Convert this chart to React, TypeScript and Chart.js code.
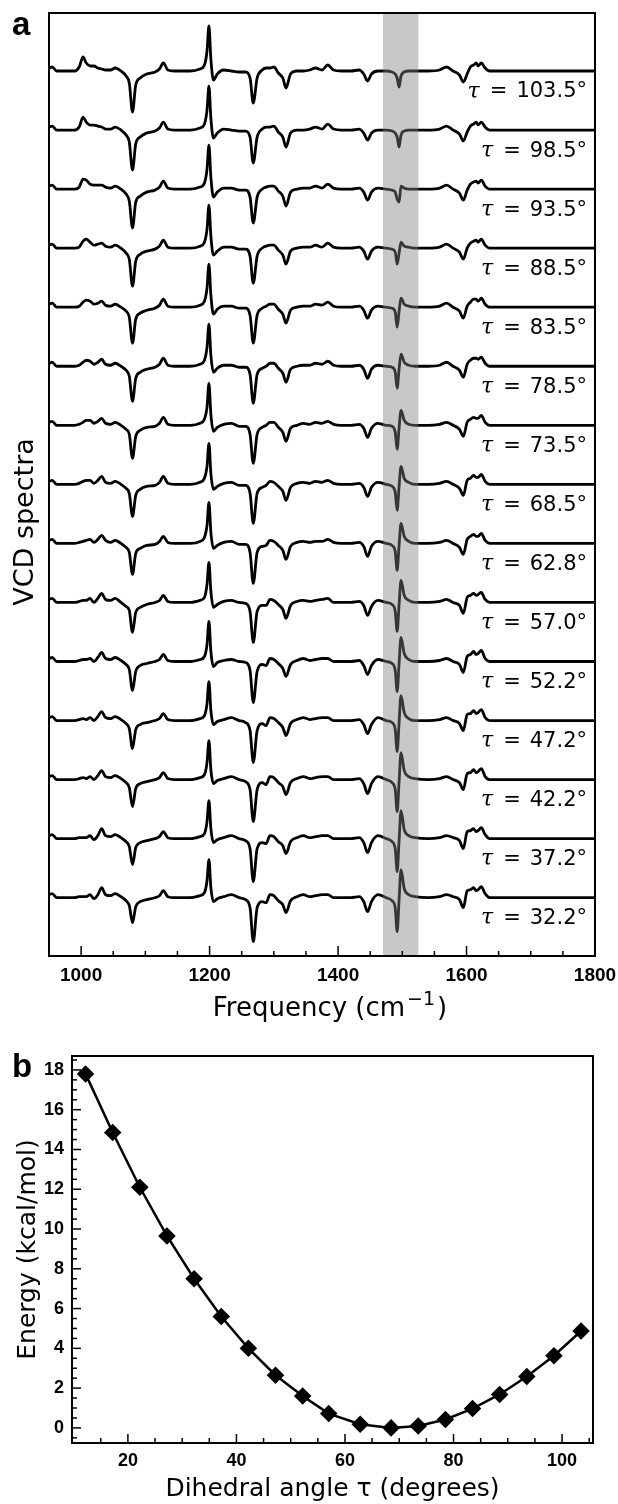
import React, { useEffect, useRef } from "react";
import { Chart, registerables } from "chart.js";
Chart.register(...registerables);

// ---------------- Panel a : VCD spectra ----------------
const frequency = [
  950, 955, 962, 990, 997, 1003, 1008, 1014, 1020, 1026,
  1032, 1038, 1046, 1053, 1062, 1070, 1075, 1080, 1085, 1092,
  1102, 1115, 1122, 1128, 1135, 1145, 1170, 1185, 1192, 1196,
  1199, 1202, 1206, 1212, 1222, 1234, 1246, 1256, 1263, 1268,
  1274, 1282, 1288, 1294, 1300, 1307, 1314, 1319, 1326, 1336,
  1346, 1356, 1365, 1375, 1384, 1393, 1405, 1420, 1433, 1440,
  1446, 1452, 1462, 1475, 1484, 1489, 1492, 1495, 1498, 1503,
  1510, 1520, 1540, 1558, 1569, 1579, 1589, 1595, 1601, 1606,
  1611, 1615, 1618, 1623, 1629, 1636, 1650, 1800,
];

const tauLabels = ["103.5", "98.5", "93.5", "88.5", "83.5", "78.5", "73.5", "68.5", "62.8", "57.0", "52.2", "47.2", "42.2", "37.2", "32.2"];

const vcd_103_5 = [
  3, 4, 0, 0, 4, 14, 8, 5, 5, 3,
  2, 1, 1, 3, 0, -5, -12, -41, -14, -7,
  -3, -1, 2, 8, 1, 0, 0, 2, 6, 20,
  45, 12, -9, -3, 1, 0, -1, -1, -7, -32,
  -7, 1, 3, 3, 4, -2, -7, -17, -3, 0,
  0, 1, 3, 1, 6, 1, 0, 0, 1, -3,
  -10, -3, 0, 0, -1, -3, -7, -16, -5, -1,
  0, 0, 0, 1, 4, 0, -4, -11, -3, 4,
  6, 8, 5, 8, 3, 0, 0, 0,
];
const vcd_98_5 = [
  3, 4, 0, 0, 3, 13, 8, 5, 5, 4,
  3, 1, 1, 3, 0, -5, -12, -40, -14, -7,
  -3, -1, 2, 8, 1, 0, 0, 2, 6, 20,
  44, 12, -8, -3, 1, 0, -1, -1, -7, -33,
  -7, 1, 3, 3, 4, -2, -7, -17, -3, 0,
  0, 1, 3, 1, 6, 1, 0, 0, 1, -3,
  -10, -3, 0, 0, -1, -3, -7, -17, -5, -1,
  0, 0, 0, 1, 4, 0, -4, -11, -2, 4,
  6, 8, 5, 8, 3, 0, 0, 0,
];
const vcd_93_5 = [
  3, 4, 0, 0, 2, 10, 9, 5, 4, 4,
  4, 2, 1, 3, 0, -5, -12, -39, -13, -7,
  -3, -1, 2, 8, 1, 0, 0, 2, 6, 20,
  44, 12, -8, -3, 1, 1, -1, -1, -8, -34,
  -8, 0, 2, 3, 3, -2, -7, -17, -3, 0,
  1, 1, 3, 1, 5, 1, 0, 0, 1, -3,
  -11, -3, 1, 0, -1, -3, -10, -13, 3, 1,
  0, 0, 0, 1, 4, 0, -4, -11, -1, 5,
  7, 8, 6, 9, 3, 0, 0, 0,
];
const vcd_88_5 = [
  3, 4, 0, 0, 1, 7, 9, 6, 3, 4,
  5, 2, 1, 3, 0, -5, -11, -38, -13, -6,
  -3, -1, 2, 8, 1, 0, 0, 2, 6, 19,
  43, 12, -7, -3, 1, 1, -1, -1, -8, -35,
  -8, 0, 2, 3, 3, -2, -7, -16, -3, 0,
  1, 1, 3, 1, 5, 1, 0, 0, 1, -3,
  -11, -3, 1, 0, -1, -4, -16, -5, 6, 2,
  1, 0, 0, 1, 4, 0, -4, -11, 0, 5,
  7, 8, 6, 9, 3, 0, 0, 0,
];
const vcd_83_5 = [
  3, 4, 0, 0, 1, 5, 7, 6, 3, 4,
  6, 2, 1, 3, 0, -4, -10, -36, -12, -6,
  -3, -1, 2, 8, 1, 0, 0, 2, 6, 19,
  43, 12, -7, -2, 1, 1, -1, -1, -8, -36,
  -8, -1, 1, 3, 3, -2, -7, -16, -3, 0,
  1, 1, 3, 2, 5, 1, 0, 0, 1, -3,
  -11, -3, 1, 0, -1, -5, -20, -4, 9, 3,
  1, 0, 0, 1, 4, 0, -4, -11, 1, 5,
  8, 8, 6, 9, 3, 0, 0, 0,
];
const vcd_78_5 = [
  3, 4, 0, 0, 1, 4, 6, 5, 2, 4,
  7, 2, 1, 3, 0, -4, -10, -35, -12, -6,
  -3, -1, 2, 8, 1, 0, 0, 2, 6, 19,
  42, 11, -6, -2, 1, 1, -1, -1, -8, -37,
  -8, -2, 0, 3, 3, -2, -7, -16, -3, 0,
  1, 1, 3, 2, 5, 1, 0, 0, 1, -3,
  -12, -3, 1, 0, -1, -6, -22, -3, 12, 4,
  1, 0, 0, 1, 4, 0, -4, -11, 2, 6,
  8, 8, 7, 9, 3, 0, 0, 0,
];
const vcd_73_5 = [
  3, 4, 0, 0, 1, 3, 5, 5, 2, 4,
  7, 2, 1, 3, 0, -4, -9, -33, -11, -5,
  -2, -1, 2, 8, 1, 0, 0, 2, 6, 18,
  42, 11, -6, -2, 1, 2, -1, -1, -9, -38,
  -9, -2, 0, 3, 3, -2, -7, -16, -3, 0,
  2, 1, 3, 2, 4, 1, 0, 0, 1, -3,
  -12, -3, 2, 0, -1, -7, -24, -3, 15, 5,
  1, 0, 0, 1, 3, 0, -4, -11, 3, 6,
  8, 7, 7, 10, 3, 0, 0, 0,
];
const vcd_68_5 = [
  3, 4, 0, 0, 1, 3, 4, 4, 1, 4,
  8, 2, 1, 3, 0, -4, -9, -32, -11, -5,
  -2, -1, 2, 8, 1, 0, 0, 2, 6, 18,
  41, 11, -5, -2, 1, 2, -1, -1, -9, -39,
  -9, -3, -1, 3, 2, -2, -7, -16, -3, 1,
  2, 1, 3, 2, 4, 1, 0, 0, 1, -3,
  -12, -3, 2, 0, -2, -8, -26, -2, 18, 6,
  2, 0, 0, 1, 3, 0, -4, -11, 4, 6,
  9, 7, 7, 10, 3, 0, 0, 0,
];
const vcd_62_8 = [
  3, 4, 0, 0, 1, 2, 3, 4, 1, 4,
  8, 3, 1, 3, 0, -4, -9, -31, -10, -5,
  -2, -1, 2, 7, 1, 0, 0, 2, 6, 18,
  41, 11, -5, -2, 1, 2, -1, -1, -9, -40,
  -9, -3, -2, 3, 2, -2, -7, -16, -3, 1,
  2, 1, 2, 2, 4, 1, 0, 0, 1, -3,
  -13, -3, 2, 0, -2, -8, -27, -2, 20, 7,
  2, 0, 0, 1, 3, 0, -4, -11, 4, 7,
  9, 7, 7, 10, 3, 0, 0, 0,
];
const vcd_57_0 = [
  3, 4, 0, 0, 1, 2, 2, 4, 0, 4,
  9, 3, 2, 4, 0, -4, -8, -30, -10, -5,
  -2, 0, 2, 7, 1, 0, 0, 2, 5, 18,
  40, 11, -5, -2, 1, 2, 0, -1, -9, -40,
  -9, -3, -3, 3, 2, -2, -7, -16, -3, 1,
  2, 1, 2, 3, 4, 0, 0, 0, 1, -3,
  -13, -4, 2, 0, -2, -9, -29, -2, 22, 7,
  2, 0, 0, 1, 3, 0, -3, -11, 5, 7,
  9, 7, 8, 10, 3, 0, 0, 0,
];
const vcd_52_2 = [
  3, 4, 0, 0, 1, 2, 2, 3, 0, 4,
  9, 3, 2, 4, 1, -3, -8, -29, -10, -4,
  -2, 0, 2, 7, 1, 0, 0, 2, 5, 17,
  40, 10, -5, -1, 1, 2, 0, -1, -9, -41,
  -10, -3, -4, 3, 2, -2, -7, -15, -3, 1,
  3, 1, 2, 3, 3, 0, 0, 0, 1, -4,
  -13, -4, 2, 0, -2, -9, -30, -2, 24, 8,
  2, 0, 0, 1, 3, 0, -3, -11, 5, 7,
  10, 7, 8, 11, 3, 0, 0, 0,
];
const vcd_47_2 = [
  3, 4, 0, 0, 1, 2, 1, 3, 0, 4,
  9, 3, 2, 4, 1, -3, -8, -28, -9, -4,
  -2, 0, 2, 7, 1, 0, 0, 2, 5, 17,
  39, 10, -4, -1, 1, 3, 0, -2, -10, -42,
  -10, -3, -5, 3, 2, -2, -7, -15, -3, 1,
  3, 1, 2, 3, 3, 0, 0, 0, 1, -4,
  -13, -4, 3, 0, -2, -9, -31, -2, 25, 8,
  2, 0, 0, 1, 3, 0, -3, -10, 6, 7,
  10, 7, 8, 11, 3, 0, 0, 0,
];
const vcd_42_2 = [
  3, 4, 0, 0, 1, 2, 1, 3, 0, 4,
  9, 3, 2, 4, 1, -3, -8, -27, -9, -4,
  -2, 0, 2, 7, 1, 0, 0, 2, 5, 17,
  39, 10, -4, -1, 1, 3, 0, -2, -10, -42,
  -10, -3, -5, 3, 2, -3, -7, -15, -3, 1,
  3, 1, 2, 3, 3, 0, 0, 0, 1, -4,
  -14, -4, 3, 0, -3, -10, -32, -2, 27, 9,
  3, 1, 0, 1, 3, 0, -3, -10, 6, 7,
  10, 7, 8, 11, 3, 0, 0, 0,
];
const vcd_37_2 = [
  3, 4, 0, 0, 1, 1, 1, 3, -1, 3,
  10, 3, 2, 4, 1, -3, -8, -26, -9, -4,
  -2, 0, 2, 7, 1, 0, 0, 2, 5, 17,
  38, 10, -4, -1, 1, 3, 0, -2, -10, -43,
  -10, -4, -5, 3, 2, -3, -7, -15, -3, 1,
  3, 1, 2, 3, 3, 0, 0, 0, 1, -4,
  -14, -4, 3, 0, -3, -10, -33, -2, 28, 9,
  3, 1, 0, 1, 3, 1, -2, -10, 7, 8,
  10, 7, 8, 11, 4, 0, 0, 0,
];
const vcd_32_2 = [
  3, 4, 0, 0, 1, 1, 1, 3, -1, 3,
  10, 3, 2, 4, 1, -3, -8, -25, -9, -4,
  -2, 0, 2, 7, 1, 0, 0, 2, 5, 17,
  38, 10, -4, -1, 1, 3, 0, -2, -10, -44,
  -10, -4, -5, 3, 2, -3, -7, -15, -3, 1,
  3, 1, 2, 3, 3, 0, 0, 0, 1, -4,
  -14, -4, 3, 0, -3, -10, -34, -2, 28, 9,
  3, 1, 0, 1, 3, 1, -2, -10, 7, 8,
  10, 7, 8, 11, 4, 0, 0, 0,
];

const vcdSpectra = [
  vcd_103_5, vcd_98_5, vcd_93_5, vcd_88_5, vcd_83_5, vcd_78_5, vcd_73_5, vcd_68_5,
  vcd_62_8, vcd_57_0, vcd_52_2, vcd_47_2, vcd_42_2, vcd_37_2, vcd_32_2,
];

const frequencyTicks = [1000, 1200, 1400, 1600, 1800];
const frequencyMinorTicks = [1050, 1100, 1150, 1250, 1300, 1350, 1450, 1500, 1550, 1650, 1700, 1750];
const highlightBand = [1470, 1525];

// ---------------- Panel b : energy profile ----------------
const dihedralAngle = [12.2, 17.2, 22.2, 27.2, 32.2, 37.2, 42.2, 47.2, 52.2, 57.0, 62.8, 68.5, 73.5, 78.5, 83.5, 88.5, 93.5, 98.5, 103.5];
const energy = [17.8, 14.85, 12.1, 9.65, 7.5, 5.6, 4.0, 2.65, 1.6, 0.72, 0.18, 0.0, 0.1, 0.42, 0.97, 1.68, 2.58, 3.63, 4.87];
const angleTicks = [20, 40, 60, 80, 100];
const angleMinorTicks = [15, 25, 30, 35, 45, 50, 55, 65, 70, 75, 85, 90, 95, 105];
const energyTicks = [0, 2, 4, 6, 8, 10, 12, 14, 16, 18];
const energyMinorTicks = [-0.5, 0.5, 1, 1.5, 2.5, 3, 3.5, 4.5, 5, 5.5, 6.5, 7, 7.5, 8.5, 9, 9.5, 10.5, 11, 11.5, 12.5, 13, 13.5, 14.5, 15, 15.5, 16.5, 17, 17.5, 18.5];

// ---------------- shared styling ----------------
const SANS = '"DejaVu Sans", sans-serif';
const TICK_FONT_A = { family: '"Liberation Sans", Arial, sans-serif', weight: "bold" as const, size: 19 };
const TICK_FONT_B = { family: '"Liberation Sans", Arial, sans-serif', weight: "bold" as const, size: 18 };
const TITLE_FONT_B = { family: SANS, size: 25 };

const boxTicksPlugin = {
  id: "boxTicks",
  afterDraw(chart: any, _args: any, opts: any) {
    const { ctx, chartArea: a, scales } = chart;
    ctx.save();
    ctx.strokeStyle = "#000";
    ctx.lineWidth = 1.5;
    const seg = (x1: number, y1: number, x2: number, y2: number) => {
      ctx.beginPath();
      ctx.moveTo(x1, y1);
      ctx.lineTo(x2, y2);
      ctx.stroke();
    };
    (opts.xMinor || []).forEach((v: number) => {
      const x = scales.x.getPixelForValue(v);
      seg(x, a.bottom, x, a.bottom - opts.minorLen);
    });
    (opts.xMajor || []).forEach((v: number) => {
      const x = scales.x.getPixelForValue(v);
      seg(x, a.bottom, x, a.bottom - opts.majorLen);
    });
    (opts.yMinor || []).forEach((v: number) => {
      const y = scales.y.getPixelForValue(v);
      seg(a.left, y, a.left + opts.minorLen, y);
    });
    (opts.yMajor || []).forEach((v: number) => {
      const y = scales.y.getPixelForValue(v);
      seg(a.left, y, a.left + opts.majorLen, y);
    });
    ctx.lineWidth = 2;
    ctx.strokeRect(a.left, a.top, a.right - a.left, a.bottom - a.top);
    ctx.fillStyle = "#000";
    ctx.font = 'bold 33px "Liberation Sans", Arial, sans-serif';
    ctx.textAlign = "left";
    ctx.textBaseline = "alphabetic";
    ctx.fillText(opts.letter, opts.letterX, opts.letterY);
    ctx.restore();
  },
};

// Highlight band, tau labels and panel-a axis titles (with a true superscript)
const bandLabelPlugin = {
  id: "bandLabels",
  afterDatasetsDraw(chart: any, _args: any, opts: any) {
    const { ctx, chartArea: a, scales } = chart;
    ctx.save();
    const x1 = scales.x.getPixelForValue(opts.band[0]);
    const x2 = scales.x.getPixelForValue(opts.band[1]);
    ctx.fillStyle = "rgba(128,128,128,0.43)";
    ctx.fillRect(x1, a.top, x2 - x1, a.bottom - a.top);
    ctx.fillStyle = "#000";
    ctx.textBaseline = "middle";
    ctx.textAlign = "right";
    opts.labels.forEach((lab: string, k: number) => {
      const y = scales.y.getPixelForValue(opts.offsets[k]) + 21;
      const right = a.right - 8;
      ctx.font = "21px " + SANS;
      const num = lab + "°";
      ctx.fillText(num, right, y);
      let x = right - ctx.measureText(num).width - 9;
      ctx.fillText("=", x, y);
      x -= ctx.measureText("=").width + 10;
      ctx.font = 'italic 22px "DejaVu Serif", serif';
      ctx.fillText("τ", x, y);
    });

    // x-axis title: Frequency (cm^-1)
    ctx.textAlign = "left";
    ctx.textBaseline = "alphabetic";
    const main1 = "Frequency (cm";
    const sup = "−1";
    const main2 = ")";
    const fMain = "26px " + SANS;
    const fSup = "19px " + SANS;
    ctx.font = fMain;
    const w1 = ctx.measureText(main1).width;
    const w3 = ctx.measureText(main2).width;
    ctx.font = fSup;
    const w2 = ctx.measureText(sup).width;
    const total = w1 + 2 + w2 + 2 + w3;
    let tx = (a.left + a.right) / 2 + 8 - total / 2;
    const baseY = a.bottom + 60;
    ctx.font = fMain;
    ctx.fillText(main1, tx, baseY);
    tx += w1 + 2;
    ctx.font = fSup;
    ctx.fillText(sup, tx, baseY - 11);
    tx += w2 + 2;
    ctx.font = fMain;
    ctx.fillText(main2, tx, baseY);

    // y-axis title: VCD spectra
    ctx.save();
    ctx.translate(26, opts.yTitleCenter);
    ctx.rotate(-Math.PI / 2);
    ctx.textAlign = "center";
    ctx.textBaseline = "middle";
    ctx.font = "27px " + SANS;
    ctx.fillText("VCD spectra", 0, 0);
    ctx.restore();
    ctx.restore();
  },
};

const TRACE_TOP = 885;
const TRACE_STEP = 59.05;

export default function App() {
  const refA = useRef<HTMLCanvasElement>(null);
  const refB = useRef<HTMLCanvasElement>(null);

  useEffect(() => {
    const offsets = vcdSpectra.map((_, k) => TRACE_TOP - TRACE_STEP * k);
    const datasetsA = vcdSpectra.map((vals, k) => ({
      label: "τ = " + tauLabels[k] + "°",
      data: frequency.map((f, i) => ({ x: f, y: vals[i] + offsets[k] })),
      borderColor: "#000",
      borderWidth: 2.8,
      pointRadius: 0,
      fill: false,
      cubicInterpolationMode: "monotone" as const,
      borderJoinStyle: "round" as const,
    }));

    const chartA = new Chart(refA.current!, {
      type: "line",
      data: { datasets: datasetsA },
      options: {
        animation: false,
        responsive: false,
        maintainAspectRatio: false,
        events: [],
        layout: { padding: { top: 13, right: 23, left: 0, bottom: 0 } },
        plugins: {
          legend: { display: false },
          tooltip: { enabled: false },
          boxTicks: { xMajor: frequencyTicks, xMinor: frequencyMinorTicks, majorLen: 10, minorLen: 5, letter: "a", letterX: 12, letterY: 35 },
          bandLabels: { band: highlightBand, labels: tauLabels, offsets, yTitleCenter: 522 },
        } as any,
        scales: {
          x: {
            type: "linear",
            min: 950,
            max: 1800,
            afterBuildTicks: (s: any) => {
              s.ticks = frequencyTicks.map((v) => ({ value: v }));
            },
            afterFit: (s: any) => {
              s.height = 79;
              s.paddingLeft = 0;
              s.paddingRight = 0;
            },
            ticks: { font: TICK_FONT_A, color: "#000", padding: 8, maxRotation: 0, autoSkip: false, callback: (v: any) => String(v) },
            grid: { display: false, drawTicks: false },
            border: { display: false },
          },
          y: {
            type: "linear",
            min: 0,
            max: 943,
            afterFit: (s: any) => {
              s.width = 49;
              s.paddingTop = 0;
              s.paddingBottom = 0;
            },
            ticks: { display: false },
            grid: { display: false, drawTicks: false },
            border: { display: false },
          },
        },
      },
      plugins: [bandLabelPlugin, boxTicksPlugin],
    });

    const chartB = new Chart(refB.current!, {
      type: "line",
      data: {
        datasets: [
          {
            label: "Energy",
            data: dihedralAngle.map((t, i) => ({ x: t, y: energy[i] })),
            borderColor: "#000",
            borderWidth: 2.5,
            pointStyle: "rectRot",
            pointRadius: 7,
            pointBackgroundColor: "#000",
            pointBorderColor: "#000",
            tension: 0,
            fill: false,
          },
        ],
      },
      options: {
        animation: false,
        responsive: false,
        maintainAspectRatio: false,
        events: [],
        layout: { padding: { top: 21, right: 25, left: 0, bottom: 0 } },
        plugins: {
          legend: { display: false },
          tooltip: { enabled: false },
          boxTicks: { xMajor: angleTicks, xMinor: angleMinorTicks, yMajor: energyTicks, yMinor: energyMinorTicks, majorLen: 9, minorLen: 5, letter: "b", letterX: 12, letterY: 42 },
        } as any,
        scales: {
          x: {
            type: "linear",
            min: 9.7,
            max: 105.7,
            afterBuildTicks: (s: any) => {
              s.ticks = angleTicks.map((v) => ({ value: v }));
            },
            afterFit: (s: any) => {
              s.height = 61;
              s.paddingLeft = 0;
              s.paddingRight = 0;
            },
            ticks: { font: TICK_FONT_B, color: "#000", padding: 7, maxRotation: 0, autoSkip: false, callback: (v: any) => String(v) },
            grid: { display: false, drawTicks: false },
            border: { display: false },
            title: { display: true, text: "Dihedral angle τ (degrees)", font: TITLE_FONT_B, color: "#000", padding: { top: 0, bottom: 0 } },
          },
          y: {
            type: "linear",
            min: -0.76,
            max: 18.7,
            afterBuildTicks: (s: any) => {
              s.ticks = energyTicks.map((v) => ({ value: v }));
            },
            afterFit: (s: any) => {
              s.width = 72;
              s.paddingTop = 0;
              s.paddingBottom = 0;
            },
            ticks: { font: TICK_FONT_B, color: "#000", padding: 8, autoSkip: false, callback: (v: any) => String(v) },
            grid: { display: false, drawTicks: false },
            border: { display: false },
            title: { display: true, text: "Energy (kcal/mol)", font: TITLE_FONT_B, color: "#000", padding: { top: 13, bottom: 0 } },
          },
        },
      },
      plugins: [boxTicksPlugin],
    });

    return () => {
      chartA.destroy();
      chartB.destroy();
    };
  }, []);

  return (
    <div style={{ position: "absolute", left: 0, top: 0, width: 618, height: 1504, background: "#fff" }}>
      <canvas ref={refA} width={618} height={1035} style={{ display: "block" }} />
      <canvas ref={refB} width={618} height={469} style={{ display: "block" }} />
    </div>
  );
}
